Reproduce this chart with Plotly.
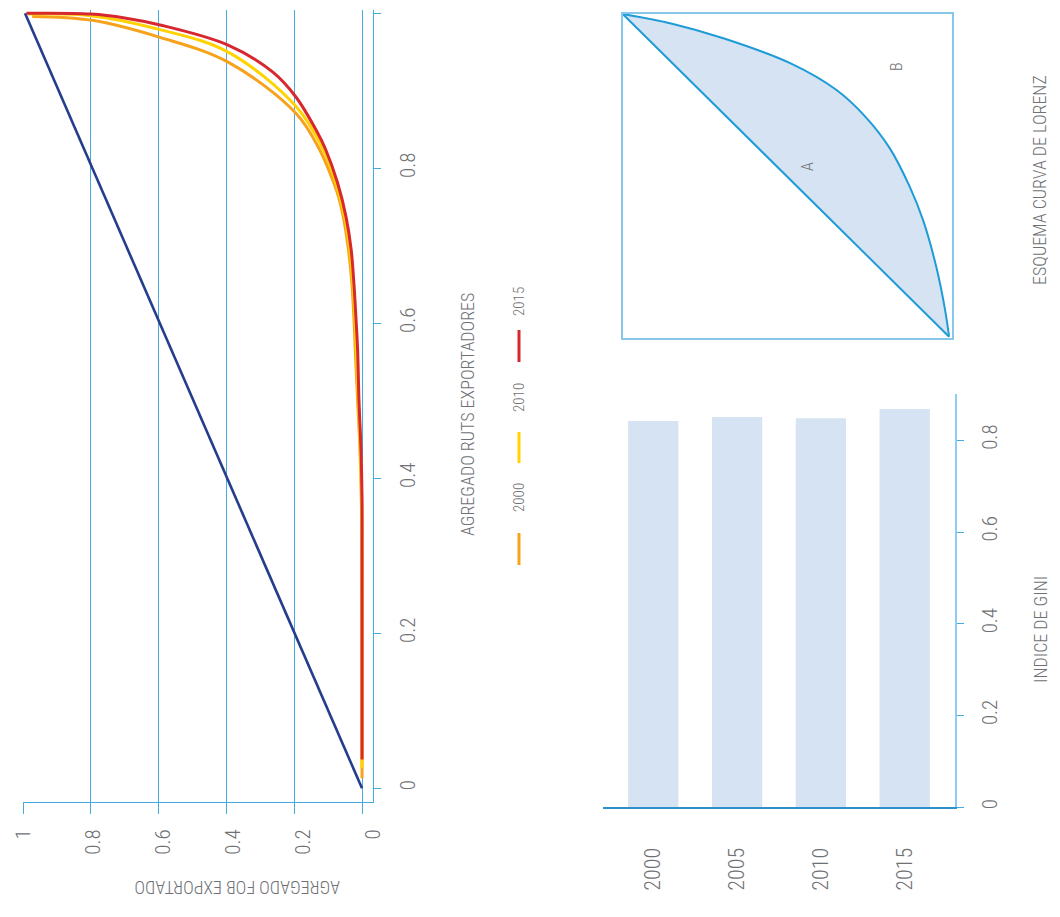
import plotly.graph_objects as go

# ---------------- data ----------------
# Lorenz curves: cumulative share of exporters (RUTS) vs cumulative FOB share
ruts_2000 = [0.013, 0.10, 0.20, 0.307, 0.372, 0.437, 0.501, 0.566, 0.608, 0.652, 0.695, 0.737, 0.763, 0.781,
             0.824, 0.871, 0.937, 0.969, 0.991, 0.996]
fob_2000 = [0.0, 0.0, 0.0, 0.0, 0.002, 0.006, 0.013, 0.020, 0.024, 0.030, 0.040, 0.055, 0.069, 0.083,
            0.125, 0.195, 0.395, 0.596, 0.796, 0.973]

ruts_2010 = [0.026, 0.10, 0.20, 0.307, 0.372, 0.437, 0.501, 0.566, 0.608, 0.652, 0.695, 0.737, 0.781,
             0.824, 0.880, 0.950, 0.979, 0.997, 0.999]
fob_2010 = [0.0, 0.0, 0.0, 0.0, 0.001, 0.005, 0.011, 0.017, 0.021, 0.027, 0.036, 0.051, 0.077,
            0.114, 0.195, 0.395, 0.596, 0.800, 0.985]

ruts_2015 = [0.037, 0.10, 0.20, 0.30, 0.372, 0.437, 0.501, 0.566, 0.608, 0.652, 0.695, 0.737, 0.781,
             0.824, 0.849, 0.892, 0.924, 0.959, 0.985, 0.994, 0.999, 1.0]
fob_2015 = [0.0, 0.0, 0.0, 0.0, 0.0, 0.003, 0.009, 0.013, 0.018, 0.024, 0.032, 0.047, 0.072,
            0.107, 0.135, 0.195, 0.263, 0.395, 0.596, 0.700, 0.800, 0.99]

equality_ruts = [0.0, 1.0]
equality_fob = [0.0, 0.994]

# Gini index by year
gini_years = ["2000", "2005", "2010", "2015"]
gini_values = [0.842, 0.851, 0.848, 0.868]

# Lorenz schema (illustrative)
schema_diag_x = [0.0, 0.992]
schema_diag_y = [1.0, 0.003]
schema_curve_x = [0.0, 0.15, 0.306, 0.509, 0.650, 0.740, 0.812, 0.873, 0.914, 0.954, 0.980, 0.992]
schema_curve_y = [1.0, 0.97, 0.925, 0.848, 0.765, 0.680, 0.585, 0.465, 0.360, 0.215, 0.085, 0.003]

axis_ticks = [0, 0.2, 0.4, 0.6, 0.8, 1]
axis_tick_text = ["0", "0.2", "0.4", "0.6", "0.8", "1"]
gini_ticks = [0, 0.2, 0.4, 0.6, 0.8]
gini_tick_text = ["0", "0.2", "0.4", "0.6", "0.8"]

# ---------------- style ----------------
OFF = 8                      # default page margin of the html body
W, H = 1060 - 2 * OFF, 917 - 2 * OFF
FONT = "Roboto Condensed, Liberation Sans Narrow, Roboto, sans-serif"
GREY = "#707174"
BLUE = "#45aae0"
C2000 = "#f7a21b"
C2010 = "#ffd200"
C2015 = "#d7282f"
NAVY = "#243d8c"


def px(x):
    return (x - OFF) / W


def py(y):
    return 1 - (y - OFF) / H


fig = go.Figure()

# main chart
fig.add_trace(go.Scatter(x=equality_fob, y=equality_ruts, mode="lines",
                         line=dict(color=NAVY, width=2.6), showlegend=False))
fig.add_trace(go.Scatter(x=fob_2000, y=ruts_2000, mode="lines", line_shape="spline",
                         line=dict(color=C2000, width=3), showlegend=False))
fig.add_trace(go.Scatter(x=fob_2010, y=ruts_2010, mode="lines", line_shape="spline",
                         line=dict(color=C2010, width=3), showlegend=False))
fig.add_trace(go.Scatter(x=fob_2015, y=ruts_2015, mode="lines", line_shape="spline",
                         line=dict(color=C2015, width=3), showlegend=False))
# empty trace so the label axis (x3) is created
fig.add_trace(go.Scatter(x=[], y=[], xaxis="x3", yaxis="y", showlegend=False, hoverinfo="skip"))

# gini bars
fig.add_trace(go.Bar(x=gini_years, y=gini_values, marker=dict(color="#d5e3f3", line=dict(width=0)),
                     xaxis="x2", yaxis="y2", showlegend=False))

# schema
fig.add_trace(go.Scatter(x=schema_diag_x, y=schema_diag_y, mode="lines",
                         line=dict(color="#1f9bd7", width=2), xaxis="x4", yaxis="y4", showlegend=False))
fig.add_trace(go.Scatter(x=schema_curve_x, y=schema_curve_y, mode="lines", line_shape="spline",
                         line=dict(color="#1f9bd7", width=2), fill="tonexty", fillcolor="#d5e3f3",
                         xaxis="x4", yaxis="y4", showlegend=False))

tickfont = dict(family=FONT, size=21, color=GREY, weight=300)

fig.update_layout(
    width=W, height=H, autosize=False,
    margin=dict(l=0, r=0, t=0, b=0, pad=0),
    paper_bgcolor="white", plot_bgcolor="white",
    font=dict(family=FONT, color=GREY),
    bargap=0.4,
    xaxis=dict(domain=[px(23), px(373)], range=[1.0, -0.0324], anchor="y", automargin=False,
               tickvals=axis_ticks, showticklabels=False,
               showgrid=True, gridcolor=BLUE, gridwidth=1.2,
               ticks="outside", ticklen=11, tickcolor=BLUE, tickwidth=1.2,
               showline=True, linecolor=BLUE, linewidth=1.2, zeroline=False),
    xaxis3=dict(overlaying="x", anchor="y", side="bottom", range=[1.0, 0.0], automargin=False,
                tickvals=axis_ticks, ticktext=axis_tick_text, tickangle=-90,
                tickfont=tickfont, ticks="", showgrid=False, showline=False, zeroline=False,
                ticklabelstandoff=22),
    yaxis=dict(domain=[py(802), py(2 + OFF)], range=[-0.0177, 1.0146 - OFF / 775], anchor="x", side="right",
               automargin=False,
               tickvals=axis_ticks, ticktext=axis_tick_text, tickangle=-90, tickfont=tickfont,
               ticks="outside", ticklen=7, tickcolor=BLUE, tickwidth=1.2,
               showgrid=False, showline=True, linecolor=BLUE, linewidth=1.2, zeroline=False,
               ticklabelstandoff=9),
    xaxis2=dict(domain=[px(603), px(955)], anchor="y2", type="category", range=[-0.6, 3.6],
                automargin=False,
                tickangle=-90, tickfont=dict(family=FONT, size=22, color=GREY, weight=300), ticks="",
                showgrid=False, showline=True, linecolor="#2f8fcb", linewidth=1.5, zeroline=False,
                ticklabelstandoff=30),
    yaxis2=dict(domain=[py(807.3), py(394.4)], anchor="x2", side="right", range=[0, 0.9],
                automargin=False,
                tickvals=gini_ticks, ticktext=gini_tick_text, tickangle=-90, tickfont=tickfont,
                ticks="outside", ticklen=7, tickcolor="#45aae0", tickwidth=1.2,
                showgrid=False, showline=True, linecolor="#8dcdf0", linewidth=2, zeroline=False,
                ticklabelstandoff=8),
    xaxis4=dict(domain=[px(622.7), px(951.7)], anchor="y4", range=[0, 1], showticklabels=False,
                automargin=False,
                ticks="", showgrid=False, zeroline=False, showline=True, mirror=True,
                linecolor="#86c7ea", linewidth=1.5),
    yaxis4=dict(domain=[py(337.7), py(14)], anchor="x4", range=[0, 1], showticklabels=False,
                automargin=False,
                ticks="", showgrid=False, zeroline=False, showline=True, mirror=True,
                linecolor="#86c7ea", linewidth=1.5),
)

ann = []


def text(x, y, s, size, angle=-90):
    ann.append(dict(x=px(x), y=py(y), xref="paper", yref="paper", text=s, showarrow=False,
                    textangle=angle, font=dict(family=FONT, size=size, color=GREY, weight=300),
                    xanchor="center", yanchor="middle"))


text(237, 888, "AGREGADO FOB EXPORTADO", 18, angle=180)
text(467, 415, "AGREGADO RUTS EXPORTADORES", 18)
text(519, 498, "2000", 15)
text(519, 398, "2010", 15)
text(519, 302, "2015", 15)
text(1040, 630, "INDICE DE GINI", 18)
text(1040, 180, "ESQUEMA CURVA DE LORENZ", 18)
text(807, 167, "A", 16)
text(897, 67, "B", 16)
fig.update_layout(annotations=ann)

shapes = []
for (y0, y1, c) in [(533, 565, C2000), (432, 463, C2010), (330, 362, C2015)]:
    shapes.append(dict(type="line", xref="paper", yref="paper", x0=px(519), x1=px(519),
                       y0=py(y0), y1=py(y1), line=dict(color=c, width=3)))
fig.update_layout(shapes=shapes)

fig.write_html("out.html")
